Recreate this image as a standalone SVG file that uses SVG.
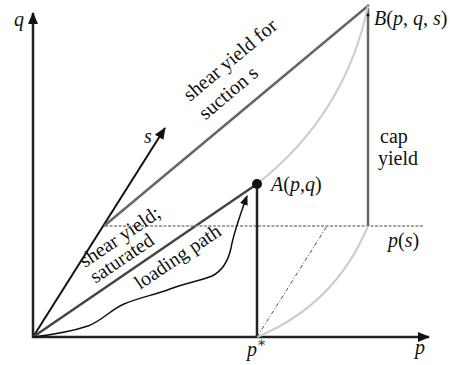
<svg xmlns="http://www.w3.org/2000/svg" width="455" height="365" viewBox="0 0 455 365">
<defs>
<style>
text{font-family:Liberation Serif,Tinos,Times New Roman,Times,DejaVu Serif,Noto Serif,serif;font-size:20px;fill:#111}
.it{font-style:italic}
.ax{stroke:#222;stroke-width:2.5;fill:none}
.dk{stroke:#444;stroke-width:2.5;fill:none}
.gr{stroke:#666;stroke-width:2.5;fill:none}
.lt{stroke:#ccc;stroke-width:2;fill:none}
</style>
<marker id="ah" markerWidth="12" markerHeight="10" refX="11" refY="5" orient="auto" markerUnits="userSpaceOnUse">
<path d="M0,0 L12,5 L0,10 Z" fill="#111"/>
</marker>
<marker id="ahs" markerWidth="10" markerHeight="8" refX="9" refY="4" orient="auto" markerUnits="userSpaceOnUse">
<path d="M0,0 L10,4 L0,8 Z" fill="#111"/>
</marker>
</defs>
<rect width="455" height="365" fill="#fff"/>
<g id="connectors">
<line id="q-axis" class="ax" x1="33" y1="338" x2="33" y2="13" marker-end="url(#ah)"/>
<line id="p-axis" class="ax" x1="32" y1="337" x2="429" y2="337" marker-end="url(#ah)"/>
<line id="s-axis" x1="33" y1="337" x2="165" y2="128" stroke="#111" stroke-width="2" marker-end="url(#ah)"/>
<line id="shear-suction" class="gr" x1="104" y1="226" x2="369" y2="5"/>
<line id="shear-saturated" class="dk" x1="33" y1="337" x2="257" y2="184"/>
<line id="ps-line" x1="105" y1="226" x2="424" y2="226" stroke="#888" stroke-width="1.5" stroke-dasharray="3,1.5"/>
<line id="cap-line" class="gr" x1="368" y1="8" x2="368" y2="226"/>
<line id="a-drop" class="ax" x1="257" y1="184" x2="257" y2="337"/>
<path id="curve-ab" class="lt" d="M257,184 Q345,115 368,6"/>
<path id="curve-ps" class="lt" d="M257,337 Q335,305 368,226"/>
<line id="dashdot" x1="257" y1="337" x2="327" y2="226" stroke="#555" stroke-width="1" stroke-dasharray="4,2,1,2"/>
<path id="loading-path" d="M33,337 C50,335 70,332 88,326 C102,321 110,310 124,304 C140,297 155,295 170,289 C185,283 200,281 212,276 C222,271 228,262 231,248 C234,232 240,215 247,196" fill="none" stroke="#111" stroke-width="1.5" marker-end="url(#ahs)"/>
</g>
<g id="point-A">
<circle cx="257" cy="184" r="5" fill="#111"/>
<text x="271" y="191"><tspan class="it">A</tspan>(<tspan class="it">p</tspan>,<tspan class="it">q</tspan>)</text>
</g>
<g id="point-B">
<circle cx="368" cy="15" r="1.5" fill="#111"/>
<text x="374" y="25"><tspan class="it">B</tspan>(<tspan class="it">p</tspan>, <tspan class="it">q</tspan>, <tspan class="it">s</tspan>)</text>
</g>
<g id="labels">
<text class="it" x="14" y="26">q</text>
<text class="it" x="415" y="354">p</text>
<text x="247" y="356"><tspan class="it">p</tspan><tspan font-size="14" dy="-9">∗</tspan></text>
<text class="it" x="144" y="143">s</text>
<text x="388" y="247"><tspan class="it">p</tspan>(<tspan class="it">s</tspan>)</text>
<text x="380" y="143">cap</text>
<text x="378" y="165">yield</text>
<g transform="translate(190,102) rotate(-40)">
<text x="0" y="0">shear yield for</text>
<text x="0" y="24">suction s</text>
</g>
<g transform="translate(85,268) rotate(-34)">
<text x="0" y="0">shear yield;</text>
<text x="0" y="19">saturated</text>
</g>
<text transform="translate(140,290) rotate(-34)">loading path</text>
</g>
</svg>
